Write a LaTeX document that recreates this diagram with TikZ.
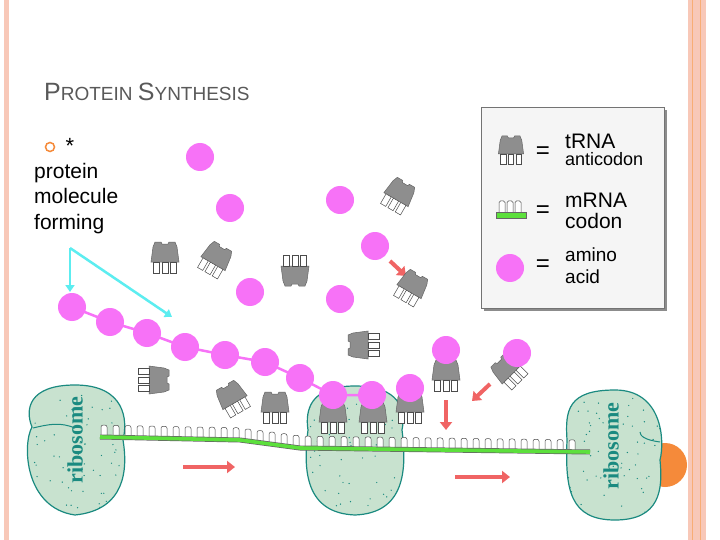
\documentclass[tikz,border=0pt]{standalone}
\usepackage{fontspec}
\setmainfont{Liberation Sans}
\usetikzlibrary{arrows.meta}
\definecolor{amino}{HTML}{F772F7}
\definecolor{ribo}{HTML}{C8E2CF}
\definecolor{riboedge}{HTML}{1A8A80}
\definecolor{tgray}{HTML}{8E8E8E}
\definecolor{mgreen}{HTML}{5CE03C}
\definecolor{redarr}{HTML}{F06464}
\definecolor{cyanarr}{HTML}{5CEDF0}
\definecolor{pinkb}{HTML}{F8C8B8}
\definecolor{orng}{HTML}{F58A3A}
\tikzset{
 aa/.style={circle,fill=amino,minimum size=28pt,inner sep=0pt},
 aline/.style={amino,line width=2.5pt},
 rarr/.style={redarr,line width=4pt,-{Triangle[length=8pt,width=12pt]}},
 carr/.style={cyanarr,line width=2.5pt,-{Triangle[length=7pt,width=9pt]}},
 ribolbl/.style={font=\fontspec{Liberation Serif}\bfseries\fontsize{22}{22}\selectfont,text=riboedge,rotate=90},
 pics/trna/.style={code={
   \fill[tgray,draw=black!60,line width=0.5pt] (-14,10)--(-12,-5)--(-10,-10)--(-4,-10)--(-3,-8)--(3,-8)--(4,-10)--(10,-10)--(12,-5)--(14,10)--cycle;
   \foreach \i in {-8.5,0,8.5}{\draw[black!70,fill=white,line width=0.5pt] (\i-3,10) rectangle (\i+3,21);}
 }},
 ribosome/.style={fill=ribo,draw=riboedge,line width=1.2pt},
 eqs/.style={font=\fontsize{24}{24}\selectfont},
 lgt/.style={anchor=west,align=left,inner sep=0pt,font=\fontsize{21}{17}\selectfont}
}
\newcommand{\ribodots}[4]{%
  \pgfmathsetseed{#4}%
  \foreach \k in {1,...,60}{\fill[riboedge] (#1+rnd*#3-#3/2,#2+rnd*120-60) circle (0.7);}}
\begin{document}
\begin{tikzpicture}[x=1pt,y=-1pt]
\useasboundingbox (0,0) rectangle (720,540);
\fill[white] (0,0) rectangle (720,540);
% slide borders
\fill[pinkb] (4,0) rectangle (9,540);
\fill[pinkb] (688,0) rectangle (706,540);
\draw[orng!70,line width=0.6pt] (692,0)--(692,540) (700,0)--(700,540);
% title
\node[anchor=west,text=black!65,inner sep=0pt] (title) at (44,92) {\fontsize{25}{26}\selectfont P\fontsize{19}{20}\selectfont ROTEIN \fontsize{25}{26}\selectfont S\fontsize{19}{20}\selectfont YNTHESIS};
\node[circle,draw=orng,line width=1.5pt,minimum size=9pt,inner sep=0pt] (bul) at (50,147) {};
\node[font=\fontsize{22}{22}\selectfont] (star) at (70,146) {*};
\node[anchor=north west,align=left,font=\fontsize{21}{25.5}\selectfont,inner sep=0pt] (pmf) at (34,163) {protein\\molecule\\forming};
% cyan arrows
\coordinate (cs) at (70,248);
\coordinate (ce1) at (70,292);
\coordinate (ce2) at (172,317);
\draw[carr] (cs)--(ce1);
\draw[carr] (cs)--(ce2);
% ribosomes
\fill[orng] (665,465) circle (22);
\path[ribosome] (75,385) .. controls (28,385) and (25,410) .. (32,427) .. controls (22,445) and (25,508) .. (75,515) .. controls (125,510) and (128,470) .. (123,440) .. controls (128,420) and (125,385) .. (75,385) -- cycle;
\begin{scope}
\clip (75,385) .. controls (28,385) and (25,410) .. (32,427) .. controls (22,445) and (25,508) .. (75,515) .. controls (125,510) and (128,470) .. (123,440) .. controls (128,420) and (125,385) .. (75,385) -- cycle;
\ribodots{75}{450}{96}{3}
\end{scope}
\draw[riboedge,line width=1pt] (33,428) .. controls (50,424) and (60,422) .. (75,428);
\node[ribolbl] (r1) at (75,440) {ribosome};
\path[ribosome] (355,386) .. controls (310,386) and (305,410) .. (308,430) .. controls (303,470) and (305,513) .. (355,515) .. controls (405,513) and (407,470) .. (402,430) .. controls (406,410) and (400,386) .. (355,386) -- cycle;
\begin{scope}
\clip (355,386) .. controls (310,386) and (305,410) .. (308,430) .. controls (303,470) and (305,513) .. (355,515) .. controls (405,513) and (407,470) .. (402,430) .. controls (406,410) and (400,386) .. (355,386) -- cycle;
\ribodots{355}{450}{96}{7}
\end{scope}
\node[coordinate] (r2) at (355,450) {};
\path[ribosome] (615,390) .. controls (568,390) and (565,410) .. (567,440) .. controls (565,490) and (570,520) .. (615,520) .. controls (660,520) and (663,490) .. (660,460) .. controls (665,440) and (662,390) .. (615,390) -- cycle;
\begin{scope}
\clip (615,390) .. controls (568,390) and (565,410) .. (567,440) .. controls (565,490) and (570,520) .. (615,520) .. controls (660,520) and (663,490) .. (660,460) .. controls (665,440) and (662,390) .. (615,390) -- cycle;
\ribodots{615}{455}{96}{11}
\end{scope}
\draw[riboedge,line width=1pt] (660,442) .. controls (645,440) and (640,436) .. (640,432);
\node[ribolbl] (r3) at (611,446) {ribosome};
% mRNA
\foreach \x in {104,116,...,580}{
  \pgfmathsetmacro{\yy}{\x<240 ? 437+(\x-100)*0.02 : (\x<300 ? 440+(\x-240)*0.13 : 448+(\x-300)*0.014)}
  \draw[black!70,fill=white,line width=0.5pt,rounded corners=2pt] (\x-3,\yy-1) -- (\x-3,\yy-12) -- (\x+3,\yy-12) -- (\x+3,\yy-1);
}
\draw[black!60,line width=5pt] (100,437)--(240,440)--(300,448)--(590,452);
\draw[mgreen,line width=3.6pt] (100,437)--(240,440)--(300,448)--(590,452) coordinate (mend);
\coordinate (mstart) at (100,437);
% red arrows
\coordinate (a1s) at (183,467); \coordinate (a1e) at (235,467);
\coordinate (a2s) at (455,477); \coordinate (a2e) at (510,477);
\coordinate (a3s) at (446,400); \coordinate (a3e) at (446,430);
\coordinate (a4s) at (490,384); \coordinate (a4e) at (472,401);
\coordinate (a5s) at (390,261); \coordinate (a5e) at (406,276);
\foreach \s/\e in {a1s/a1e,a2s/a2e,a3s/a3e,a4s/a4e,a5s/a5e}{\draw[rarr] (\s)--(\e);}
% free tRNAs
\pic at (165,252) {trna};
\pic[rotate=-30] at (218,255) {trna};
\pic[rotate=180] at (295,276) {trna};
\pic[rotate=-30] at (401,191) {trna};
\pic[rotate=-30] at (414,283) {trna};
\pic[rotate=90] at (358,345) {trna};
\pic[rotate=-90] at (159,380) {trna};
\pic[rotate=30] at (230,394) {trna};
\pic at (275,402) {trna};
% bound tRNAs
\pic at (333,412) {trna};
\pic at (373,412) {trna};
\pic at (410,402) {trna};
\pic at (446,370) {trna};
\pic[rotate=45] at (505,367) {trna};
% amino acids
\node[aa] (f1) at (200,157) {};
\node[aa] (f2) at (230,208) {};
\node[aa] (f3) at (340,200) {};
\node[aa] (f4) at (375,246) {};
\node[aa] (f5) at (250,292) {};
\node[aa] (f6) at (340,299) {};
\node[aa] (b1) at (446,350) {};
\node[aa] (b2) at (517,353) {};
\node[aa] (b3) at (410,388) {};
\draw[aline] (72,307)--(110,322)--(147,333)--(185,347)--(225,355)--(265,362)--(300,378)--(333,395)--(372,395);
\foreach \n/\p in {c1/{72,307},c2/{110,322},c3/{147,333},c4/{185,347},c5/{225,355},c6/{265,362},c7/{300,378},c8/{333,395},c9/{372,395}}{\node[aa] (\n) at (\p) {};}
% legend
\fill[black!45] (484,110) rectangle (667,311);
\node[draw=black!55,line width=0.8pt,fill=black!4,minimum width=183pt,minimum height=201pt,inner sep=0pt] (leg) at (572.5,207.5) {};
\pic[scale=0.9] at (511,145) {trna};
\node[eqs] (eq1) at (543,153) {=};
\node[lgt] (l1) at (565,150) {tRNA\\{\fontsize{18}{16}\selectfont anticodon}};
\foreach \i in {-8,0,8}{\draw[black!70,fill=white,line width=0.5pt,rounded corners=1.5pt] (510+\i-3,212) -- (510+\i-3,201) -- (510+\i+3,201) -- (510+\i+3,212);}
\fill[mgreen,draw=black!60,line width=0.8pt] (496,212) rectangle (526,218);
\node[eqs] (eq2) at (543,212) {=};
\node[lgt,font=\fontsize{21}{21}\selectfont] (l2) at (565,211) {mRNA\\codon};
\node[aa,minimum size=28pt] (la) at (510,268) {};
\node[eqs] (eq3) at (543,266) {=};
\node[lgt,font=\fontsize{19}{22}\selectfont] (l3) at (565,266) {amino\\acid};
\end{tikzpicture}
\end{document}
